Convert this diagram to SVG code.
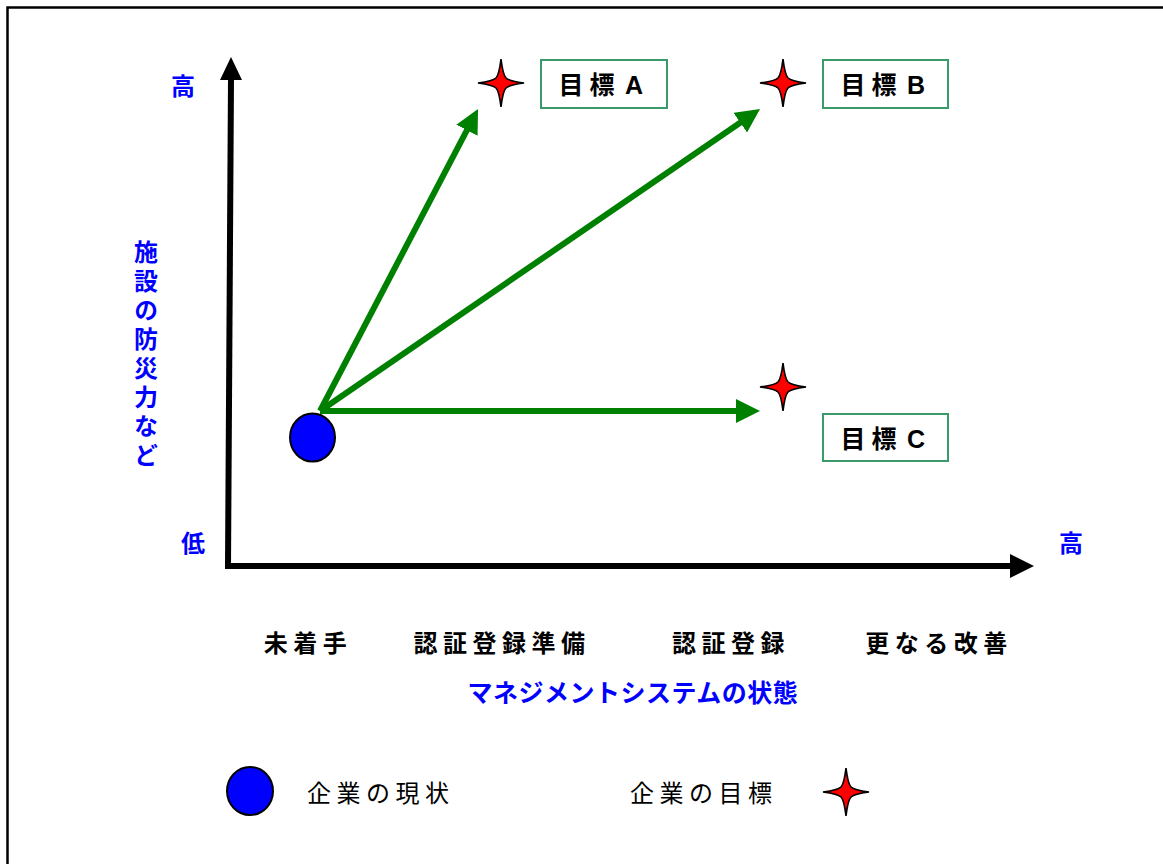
<svg xmlns="http://www.w3.org/2000/svg" width="1163" height="864" viewBox="0 0 1163 864">
<style>
.ax{stroke:#000;stroke-width:6;fill:none}
.gr{stroke:#008000;stroke-width:6;fill:none;marker-end:url(#gh)}
.star{fill:#ff0000;stroke:#000;stroke-width:1.6}
.dot{fill:#0000ff;stroke:#000;stroke-width:2}
.box{fill:#fff;stroke:#3a9a6a;stroke-width:2}
.bt{font-family:"Liberation Sans","Noto Sans CJK JP",sans-serif;font-weight:bold;font-size:25px;fill:#000;text-anchor:middle}
.blue{font-family:"Noto Sans CJK JP",sans-serif;font-weight:bold;font-size:24px;fill:#0000ff;text-anchor:middle}
.cat{font-family:"Noto Sans CJK JP",sans-serif;font-weight:bold;font-size:24px;fill:#000;text-anchor:middle;letter-spacing:5.5px}
.leg{font-family:"Noto Sans CJK JP",sans-serif;font-size:24px;fill:#000;letter-spacing:5.5px}
</style>
<defs>
<marker id="gh" markerWidth="4" markerHeight="4" refX="1" refY="2" orient="auto" viewBox="0 0 4 4">
<path d="M0,0 L4,2 L0,4 Z" fill="#008000"/>
</marker>
<path id="st" d="M0,-24 Q2,-8 5,-5 Q8,-2 23,0 Q8,2 5,5 Q2,8 0,24 Q-2,8 -5,5 Q-8,2 -23,0 Q-8,-2 -5,-5 Q-2,-8 0,-24 Z"/>
</defs>
<rect x="0" y="0" width="1163" height="864" fill="#fff"/>
<rect x="7.5" y="7.5" width="1170" height="870" fill="#fff" stroke="#000" stroke-width="2.5"/>

<g id="axes">
<line class="ax" x1="228" y1="566" x2="231" y2="78"/>
<polygon points="231,57 220,80 242,80" fill="#000"/>
<line class="ax" x1="225" y1="566" x2="1012" y2="566"/>
<polygon points="1034,566 1010,554 1010,578" fill="#000"/>
</g>

<g id="connectors">
<line class="gr" x1="320" y1="411" x2="469.7" y2="124.9"/>
<line class="gr" x1="320" y1="411" x2="745.2" y2="119.2"/>
<line class="gr" x1="320" y1="411" x2="742" y2="411"/>
</g>

<g id="current">
<ellipse class="dot" cx="312.5" cy="437.5" rx="22.5" ry="24"/>
</g>

<g id="goalA">
<use href="#st" class="star" x="501" y="83"/>
<rect class="box" x="541" y="60" width="126" height="48"/>
<text class="bt" y="94"><tspan x="571">目</tspan><tspan x="602">標</tspan><tspan x="634">A</tspan></text>
</g>
<g id="goalB">
<use href="#st" class="star" x="783" y="83"/>
<rect class="box" x="823" y="60" width="125" height="48"/>
<text class="bt" y="94"><tspan x="853">目</tspan><tspan x="884">標</tspan><tspan x="916">B</tspan></text>
</g>
<g id="goalC">
<use href="#st" class="star" x="783" y="387"/>
<rect class="box" x="823" y="414" width="125" height="47"/>
<text class="bt" y="448"><tspan x="853">目</tspan><tspan x="884">標</tspan><tspan x="916">C</tspan></text>
</g>

<g id="ylabels">
<text class="blue" x="183" y="95">高</text>
<text class="blue" x="193" y="552">低</text>
<text class="blue" x="1071" y="552">高</text>
<text class="blue" x="146" y="240" writing-mode="vertical-rl" style="text-anchor:start;letter-spacing:5px">施設の防災力など</text>
</g>

<g id="xlabels">
<text class="cat" x="308" y="652">未着手</text>
<text class="cat" x="502" y="652">認証登録準備</text>
<text class="cat" x="731" y="652">認証登録</text>
<text class="cat" x="939" y="652">更なる改善</text>
<text class="blue" x="633" y="702" style="font-size:25px;letter-spacing:0.5px">マネジメントシステムの状態</text>
</g>

<g id="legend">
<ellipse class="dot" cx="250" cy="791" rx="23" ry="24"/>
<text class="leg" x="307" y="802">企業の現状</text>
<text class="leg" x="630" y="802">企業の目標</text>
<use href="#st" class="star" x="846" y="792"/>
</g>
</svg>
